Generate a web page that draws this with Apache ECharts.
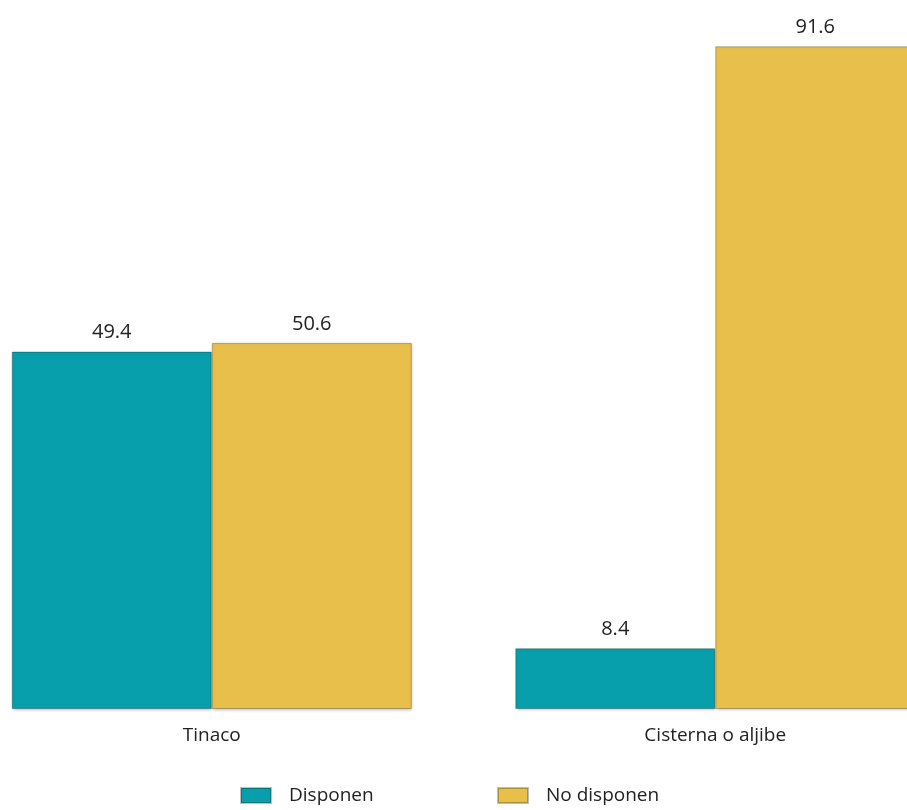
<!DOCTYPE html>
<html><head><meta charset="utf-8">
<script src="https://cdn.jsdelivr.net/npm/echarts@6/dist/echarts.min.js"></script>
<style>html,body{margin:0;padding:0;background:#fff}#c{width:907px;height:810px}</style>
</head><body><div id="c"></div>
<script>
const categories = ["Tinaco", "Cisterna o aljibe"];
const seriesNames = ["Disponen", "No disponen"];
const disponen = [49.4, 8.4];
const noDisponen = [50.6, 91.6];

const colors = ["#079FAB", "#E9BF4C"];
const chart = echarts.init(document.getElementById('c'));
const font = "'Open Sans', 'Noto Sans', sans-serif";
function mk(name, data, color) {
  return {
    name: name, type: 'bar', data: data, barWidth: 200, barGap: '0%',
    itemStyle: { color: color, borderColor: 'rgba(0,0,0,0.25)', borderWidth: 1,
      shadowColor: 'rgba(0,0,0,0.25)', shadowBlur: 3, shadowOffsetX: 1, shadowOffsetY: 1 },
    label: { show: true, position: 'top', distance: 9, color: '#222', fontSize: 20, fontFamily: font,
      formatter: p => p.value.toFixed(1) }
  };
}
chart.setOption({
  animation: false,
  grid: { left: -40, width: 1007, top: 0, bottom: 101, containLabel: false, outerBoundsMode: 'none' },
  xAxis: { type: 'category', data: categories,
    axisLine: { show: false }, axisTick: { show: false },
    axisLabel: { color: '#222', fontSize: 19, fontFamily: font, margin: 17 } },
  yAxis: { type: 'value', min: 0, max: 98, show: false, splitLine: { show: false } },
  legend: [
    { data: [seriesNames[0]], left: 240, top: 786, padding: 0, itemWidth: 30, itemHeight: 15, icon: 'rect',
      textStyle: { color: '#222', fontSize: 19, fontFamily: font, padding: [0, 0, 0, 13] } },
    { data: [seriesNames[1]], left: 497, top: 786, padding: 0, itemWidth: 30, itemHeight: 15, icon: 'rect',
      textStyle: { color: '#222', fontSize: 19, fontFamily: font, padding: [0, 0, 0, 13] } }
  ],
  series: [mk(seriesNames[0], disponen, colors[0]), mk(seriesNames[1], noDisponen, colors[1])]
});
</script></body></html>
